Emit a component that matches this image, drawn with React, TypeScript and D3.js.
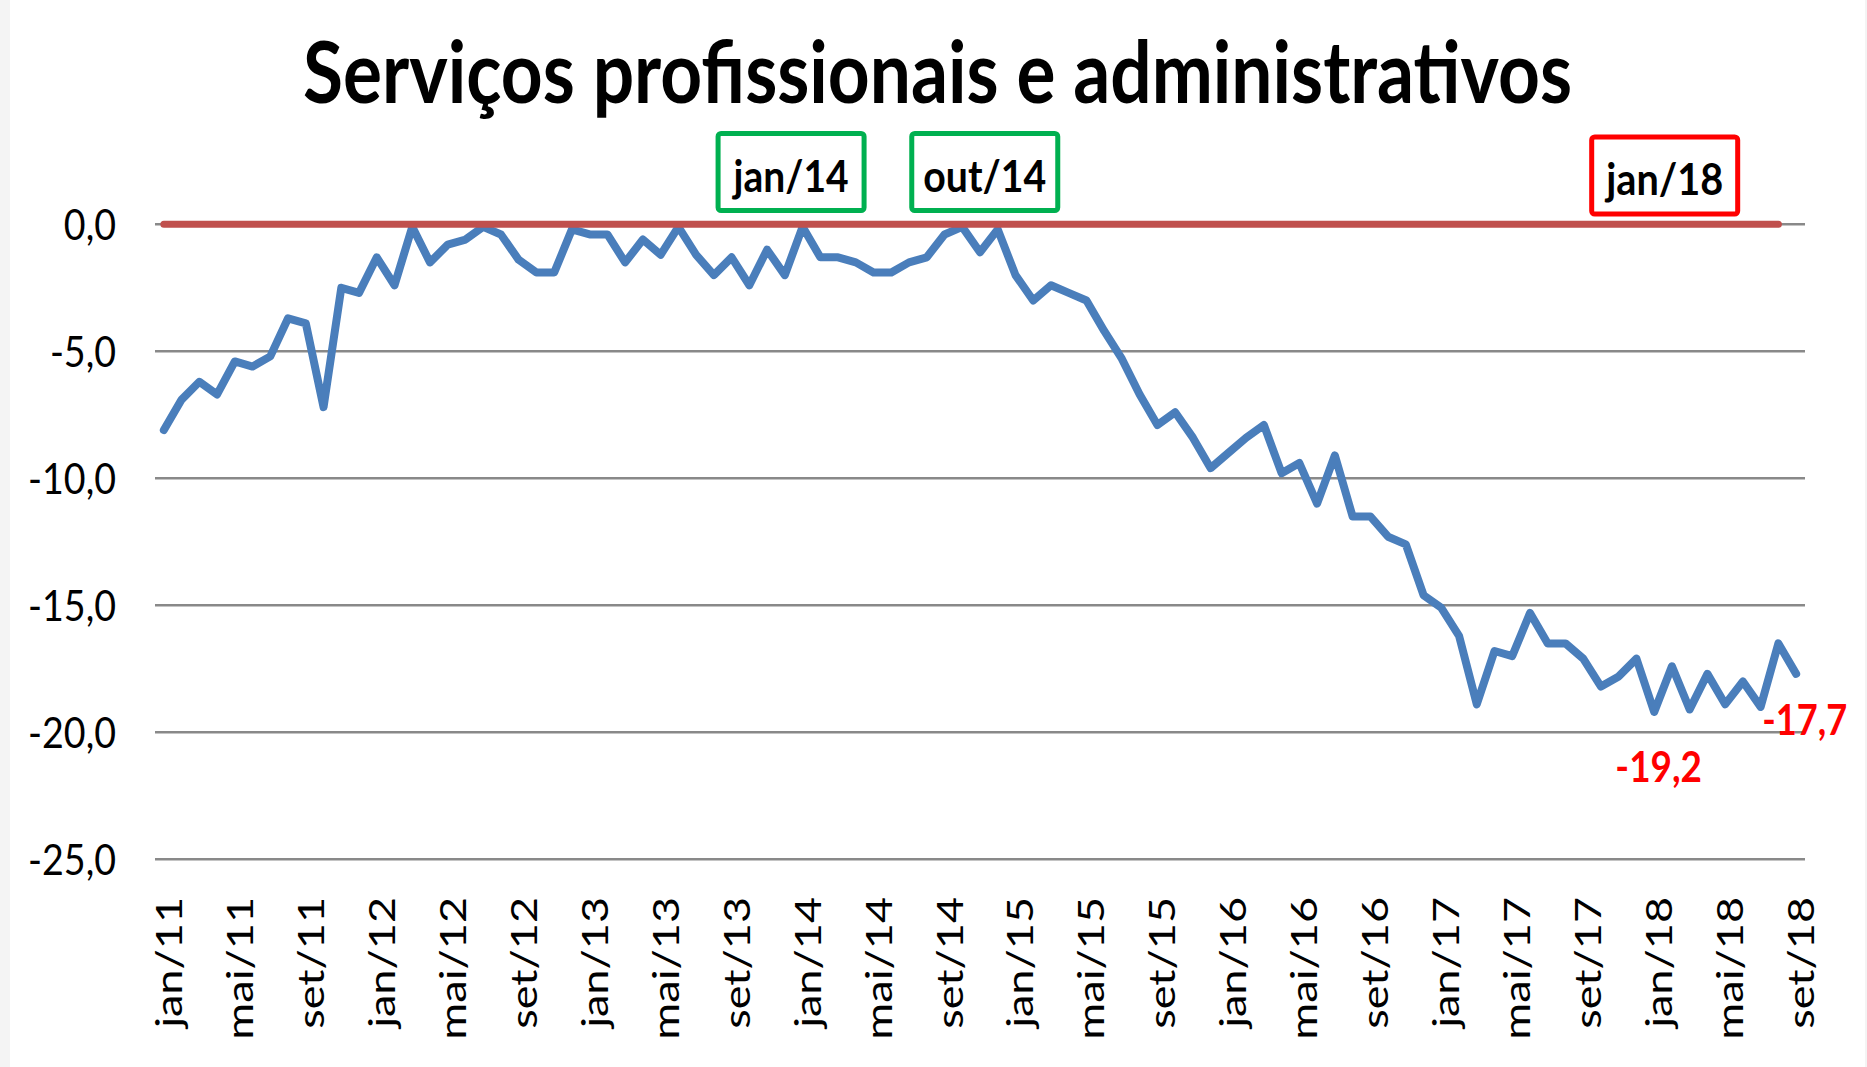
import React from 'react';
import * as d3 from 'd3';

const W = 1867;
const H = 1067;

const months = ['jan', 'fev', 'mar', 'abr', 'mai', 'jun', 'jul', 'ago', 'set', 'out', 'nov', 'dez'];
const years = ['11', '12', '13', '14', '15', '16', '17', '18'];
const categories = years.flatMap((yy) => months.map((m) => `${m}/${yy}`)).slice(0, 93);

const serviceValues = [
  -8.1, -6.9, -6.2, -6.7, -5.4, -5.6, -5.2, -3.7, -3.9, -7.2, -2.5, -2.7,
  -1.3, -2.4, -0.1, -1.5, -0.8, -0.6, -0.1, -0.4, -1.4, -1.9, -1.9, -0.2,
  -0.4, -0.4, -1.5, -0.6, -1.2, -0.1, -1.2, -2.0, -1.3, -2.4, -1.0, -2.0,
  -0.1, -1.3, -1.3, -1.5, -1.9, -1.9, -1.5, -1.3, -0.4, -0.1, -1.1, -0.2,
  -2.0, -3.0, -2.4, -2.7, -3.0, -4.2, -5.3, -6.7, -7.9, -7.4, -8.4, -9.6,
  -9.0, -8.4, -7.9, -9.8, -9.4, -11.0, -9.1, -11.5, -11.5, -12.3, -12.6, -14.6,
  -15.1, -16.2, -18.9, -16.8, -17.0, -15.3, -16.5, -16.5, -17.1, -18.2, -17.8, -17.1,
  -19.2, -17.4, -19.1, -17.7, -18.9, -18.0, -19.0, -16.5, -17.7,
];

const zeroSeries = categories.slice(0, 92).map(() => 0);

const yTickValues = [0, -5, -10, -15, -20, -25];
const xTickLabels = categories.filter((_, i) => i % 4 === 0);

const titleText = 'Serviços profissionais e administrativos';

const highlightBoxes = [
  { label: 'jan/14', color: '#00B050', dx: -11.5, dy: 0, textLen: 115 },
  { label: 'out/14', color: '#00B050', dx: 22.5, dy: 0, textLen: 123 },
  { label: 'jan/18', color: '#FF0000', dx: 10.5, dy: 3.5, textLen: 117 },
];

const valueCallouts = [
  { category: 'jan/18', value: -19.2, dx: 4.5, dy: 70, textLen: 86.7 },
  { category: 'set/18', value: -17.7, dx: 8.7, dy: 61, textLen: 85 },
];

const FONT = "Lato, 'Open Sans', sans-serif";
const SY = 1.15;
const SX_LABEL = 1.21;
const fmt = (v: number) => v.toFixed(1).replace('.', ',').replace('-0,0', '0,0');

export default function App() {
  const x = d3.scalePoint<string>().domain(categories).range([155, 1805]).padding(0.5);
  const y = d3.scaleLinear().domain([-25, 0]).range([859.3, 224.3]);

  const lineGen = d3
    .line<number>()
    .x((_, i) => x(categories[i]) as number)
    .y((d) => y(d));

  const [x0, x1] = x.range();

  return (
    <svg
      width={W}
      height={H}
      viewBox={`0 0 ${W} ${H}`}
      style={{ position: 'absolute', left: 0, top: 0, display: 'block' }}
    >
      <rect x={0} y={0} width={W} height={H} fill="#f4f4f4" />
      <rect x={10} y={0} width={W - 12} height={H} fill="#ffffff" />

      <text
        x={0}
        y={0}
        transform={`translate(303,103.3) scale(1,${SY})`}
        fontFamily={FONT}
        fontWeight={700}
        fontSize={75}
        textLength={1269}
        lengthAdjust="spacingAndGlyphs"
        fill="#000"
      >
        {titleText}
      </text>

      {yTickValues.map((v) => (
        <g key={v}>
          <line x1={x0} x2={x1} y1={y(v)} y2={y(v)} stroke="#898989" strokeWidth={2.6} />
          <text
            x={0}
            y={0}
            transform={`translate(116,${y(v) + 15.3}) scale(1,${SY})`}
            textAnchor="end"
            fontFamily={FONT}
            fontSize={37.6}
            fill="#000"
          >
            {fmt(v)}
          </text>
        </g>
      ))}

      {xTickLabels.map((c) => (
        <text
          key={c}
          x={0}
          y={0}
          transform={`translate(${(x(c) as number) + 18},897) rotate(-90) scale(${SX_LABEL},1)`}
          textAnchor="end"
          fontFamily={FONT}
          fontSize={37.2}
          fill="#000"
        >
          {c}
        </text>
      ))}

      <path
        d={lineGen(serviceValues) || ''}
        fill="none"
        stroke="#4A7EBB"
        strokeWidth={8}
        strokeLinejoin="round"
        strokeLinecap="round"
      />
      <path
        d={lineGen(zeroSeries) || ''}
        fill="none"
        stroke="#C0504D"
        strokeWidth={7}
        strokeLinejoin="round"
        strokeLinecap="round"
      />

      {highlightBoxes.map((b) => {
        const cx = (x(b.label) as number) + b.dx;
        const top = 131 + b.dy;
        const w = 151;
        const h = 82;
        return (
          <g key={b.label}>
            <rect
              x={cx - w / 2 + 2.5}
              y={top + 2.5}
              width={w - 5}
              height={h - 5}
              rx={3}
              fill="#fff"
              stroke={b.color}
              strokeWidth={5}
            />
            <text
              x={0}
              y={0}
              transform={`translate(${cx},${top + 60.7}) scale(1,${SY})`}
              textAnchor="middle"
              fontFamily={FONT}
              fontWeight={700}
              fontSize={38}
              textLength={b.textLen}
              lengthAdjust="spacingAndGlyphs"
              fill="#000"
            >
              {b.label}
            </text>
          </g>
        );
      })}

      {valueCallouts.map((c) => (
        <text
          key={c.category}
          x={0}
          y={0}
          transform={`translate(${(x(c.category) as number) + c.dx},${y(c.value) + c.dy}) scale(1,${SY})`}
          textAnchor="middle"
          fontFamily={FONT}
          fontWeight={700}
          fontSize={36}
          textLength={c.textLen}
          lengthAdjust="spacingAndGlyphs"
          fill="#FF0000"
        >
          {fmt(c.value)}
        </text>
      ))}
    </svg>
  );
}
